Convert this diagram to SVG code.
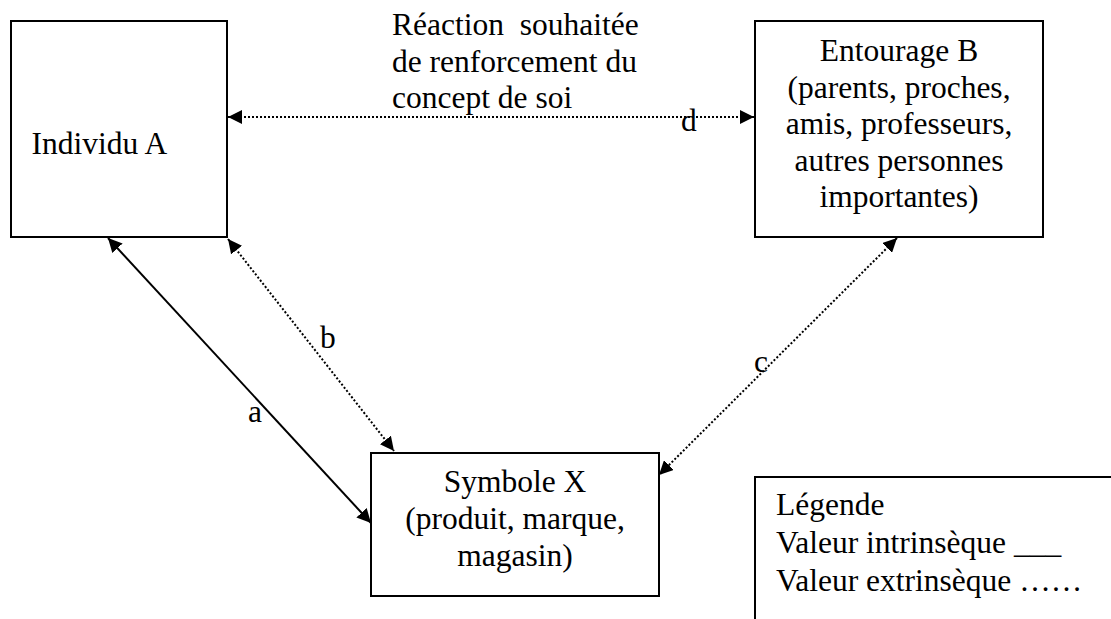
<svg xmlns="http://www.w3.org/2000/svg" width="1111" height="619" viewBox="0 0 1111 619">
<style>
  text { font-family: "Times New Roman", "Liberation Serif", Tinos, serif; font-size: 31.5px; fill: #000; }
  .box { fill: #fff; stroke: #000; stroke-width: 2; }
  .c { text-anchor: middle; }
  .solid { stroke: #000; stroke-width: 2; fill: none; }
  .dot { stroke: #000; stroke-width: 2; stroke-dasharray: 2 2; fill: none; }
</style>
<defs>
  <marker id="ah" markerUnits="userSpaceOnUse" markerWidth="15" markerHeight="14" refX="14" refY="7" orient="auto-start-reverse">
    <path d="M0,0 L14,7 L0,14 z" fill="#000"/>
  </marker>
</defs>
<rect width="1111" height="619" fill="#fff"/>

<g id="connectors">
  <line class="dot" x1="228" y1="117" x2="754" y2="117" marker-start="url(#ah)" marker-end="url(#ah)"/>
  <line class="solid" x1="108" y1="238" x2="371" y2="523" marker-start="url(#ah)" marker-end="url(#ah)"/>
  <line class="dot" x1="228" y1="239" x2="394" y2="451" marker-start="url(#ah)" marker-end="url(#ah)"/>
  <line class="dot" x1="897" y1="238" x2="659" y2="475" marker-start="url(#ah)" marker-end="url(#ah)"/>
  <text x="681" y="131">d</text>
  <text x="248" y="422">a</text>
  <text x="320" y="348">b</text>
  <text x="754" y="372">c</text>
</g>

<g id="label-reaction">
  <text x="392" y="35" style="white-space:pre">Réaction  souhaitée</text>
  <text x="392" y="72">de renforcement du</text>
  <text x="392" y="108">concept de soi</text>
</g>

<g id="node-individu">
  <rect class="box" x="11" y="21" width="216" height="216"/>
  <text x="31.5" y="154">Individu A</text>
</g>

<g id="node-entourage">
  <rect class="box" x="755" y="21" width="288" height="216"/>
  <text class="c" x="899" y="61">Entourage B</text>
  <text class="c" x="899" y="97.5">(parents, proches,</text>
  <text class="c" x="899" y="134">amis, professeurs,</text>
  <text class="c" x="899" y="170.5">autres personnes</text>
  <text class="c" x="899" y="207">importantes)</text>
</g>

<g id="node-symbole">
  <rect class="box" x="371" y="453" width="288" height="143"/>
  <text class="c" x="515" y="492">Symbole X</text>
  <text class="c" x="515" y="529">(produit, marque,</text>
  <text class="c" x="515" y="566">magasin)</text>
</g>

<g id="legend">
  <rect class="box" x="755" y="477" width="400" height="200"/>
  <text x="776" y="515">Légende</text>
  <text x="776" y="553">Valeur intrinsèque ___</text>
  <text x="776" y="591">Valeur extrinsèque ……</text>
</g>
</svg>
